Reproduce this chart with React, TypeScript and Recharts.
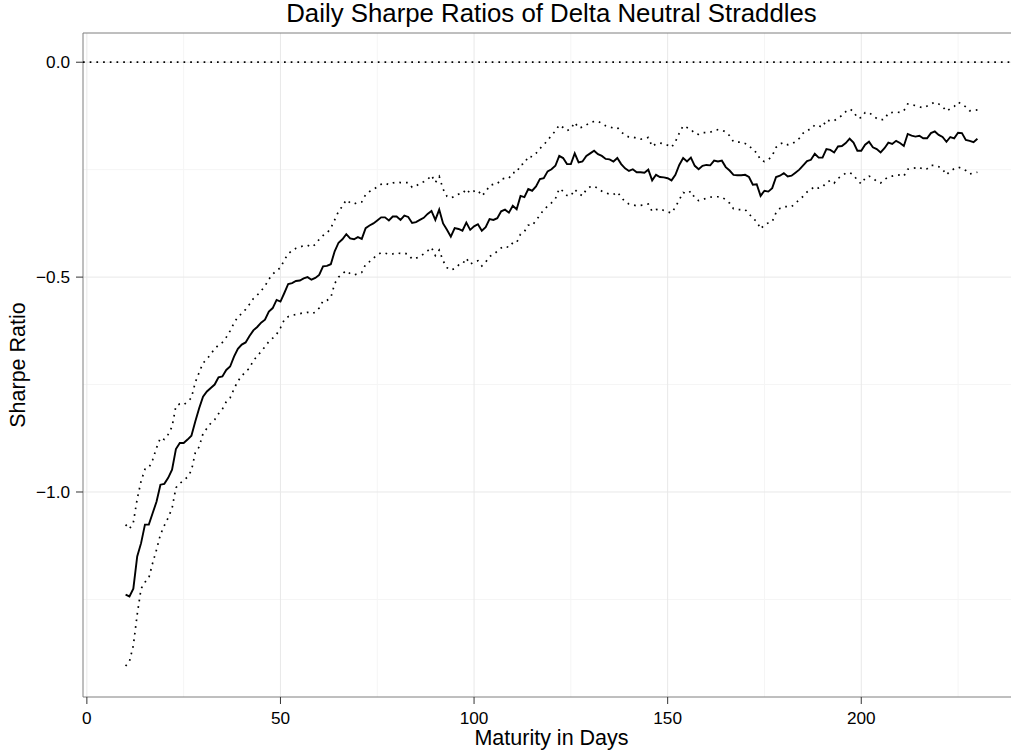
import { LineChart, Line, XAxis, YAxis, CartesianGrid, ReferenceLine, ReferenceArea } from "recharts";

// Sharpe ratio by maturity (days 10..230), mid estimate and the two dotted bounds
const mid = [
    -1.239, -1.243, -1.225, -1.150, -1.119, -1.076, -1.076, -1.049, -1.022, -0.983,
    -0.981, -0.967, -0.948, -0.900, -0.886, -0.886, -0.878, -0.869, -0.836, -0.805,
    -0.778, -0.766, -0.758, -0.750, -0.733, -0.731, -0.716, -0.708, -0.685, -0.667,
    -0.657, -0.652, -0.637, -0.624, -0.616, -0.606, -0.599, -0.580, -0.572, -0.553,
    -0.557, -0.537, -0.516, -0.514, -0.509, -0.508, -0.503, -0.500, -0.506, -0.502,
    -0.495, -0.475, -0.474, -0.470, -0.440, -0.420, -0.412, -0.400, -0.410, -0.412,
    -0.407, -0.411, -0.386, -0.380, -0.375, -0.368, -0.361, -0.361, -0.368, -0.359,
    -0.359, -0.367, -0.357, -0.360, -0.374, -0.372, -0.367, -0.362, -0.353, -0.346,
    -0.367, -0.343, -0.375, -0.390, -0.406, -0.386, -0.388, -0.392, -0.373, -0.390,
    -0.382, -0.377, -0.392, -0.384, -0.365, -0.367, -0.363, -0.347, -0.343, -0.350,
    -0.334, -0.342, -0.311, -0.314, -0.295, -0.299, -0.289, -0.272, -0.270, -0.254,
    -0.249, -0.241, -0.218, -0.223, -0.237, -0.237, -0.212, -0.233, -0.231, -0.218,
    -0.212, -0.206, -0.214, -0.218, -0.225, -0.226, -0.231, -0.223, -0.237, -0.247,
    -0.253, -0.249, -0.256, -0.256, -0.257, -0.250, -0.275, -0.262, -0.267, -0.268,
    -0.270, -0.275, -0.262, -0.239, -0.223, -0.231, -0.222, -0.241, -0.249, -0.241,
    -0.239, -0.240, -0.229, -0.231, -0.229, -0.244, -0.252, -0.262, -0.263, -0.263,
    -0.262, -0.267, -0.285, -0.284, -0.311, -0.299, -0.301, -0.293, -0.267, -0.264,
    -0.258, -0.266, -0.264, -0.257, -0.250, -0.240, -0.230, -0.227, -0.213, -0.222,
    -0.222, -0.202, -0.204, -0.210, -0.196, -0.195, -0.188, -0.178, -0.187, -0.206,
    -0.206, -0.192, -0.185, -0.198, -0.202, -0.210, -0.200, -0.187, -0.190, -0.183,
    -0.188, -0.195, -0.167, -0.171, -0.173, -0.171, -0.177, -0.177, -0.165, -0.161,
    -0.169, -0.174, -0.185, -0.174, -0.177, -0.164, -0.165, -0.181, -0.183, -0.186,
    -0.178,
];

const upper = [
    -1.076, -1.086, -1.071, -1.016, -0.975, -0.947, -0.944, -0.925, -0.897, -0.874,
    -0.878, -0.866, -0.848, -0.800, -0.795, -0.797, -0.790, -0.781, -0.745, -0.722,
    -0.700, -0.691, -0.679, -0.667, -0.658, -0.652, -0.640, -0.625, -0.607, -0.592,
    -0.585, -0.575, -0.563, -0.550, -0.542, -0.532, -0.521, -0.505, -0.493, -0.485,
    -0.478, -0.460, -0.446, -0.438, -0.433, -0.430, -0.427, -0.426, -0.430, -0.424,
    -0.412, -0.403, -0.398, -0.386, -0.367, -0.347, -0.335, -0.320, -0.327, -0.330,
    -0.326, -0.325, -0.308, -0.301, -0.296, -0.290, -0.284, -0.281, -0.285, -0.281,
    -0.279, -0.280, -0.280, -0.280, -0.291, -0.288, -0.282, -0.278, -0.273, -0.263,
    -0.280, -0.266, -0.295, -0.312, -0.316, -0.312, -0.307, -0.306, -0.295, -0.305,
    -0.300, -0.298, -0.311, -0.302, -0.287, -0.284, -0.283, -0.272, -0.270, -0.270,
    -0.257, -0.257, -0.239, -0.236, -0.219, -0.220, -0.212, -0.201, -0.192, -0.182,
    -0.170, -0.160, -0.146, -0.152, -0.159, -0.155, -0.140, -0.153, -0.151, -0.146,
    -0.140, -0.138, -0.137, -0.143, -0.148, -0.151, -0.153, -0.152, -0.162, -0.170,
    -0.174, -0.174, -0.177, -0.179, -0.178, -0.175, -0.196, -0.190, -0.188, -0.190,
    -0.193, -0.198, -0.185, -0.165, -0.148, -0.152, -0.156, -0.166, -0.168, -0.164,
    -0.164, -0.163, -0.159, -0.157, -0.158, -0.162, -0.171, -0.185, -0.186, -0.186,
    -0.189, -0.193, -0.205, -0.210, -0.228, -0.231, -0.227, -0.218, -0.198, -0.190,
    -0.187, -0.192, -0.190, -0.185, -0.177, -0.165, -0.158, -0.156, -0.146, -0.148,
    -0.151, -0.134, -0.137, -0.136, -0.130, -0.124, -0.115, -0.109, -0.114, -0.130,
    -0.129, -0.117, -0.117, -0.124, -0.131, -0.134, -0.133, -0.118, -0.117, -0.116,
    -0.117, -0.113, -0.097, -0.099, -0.101, -0.104, -0.106, -0.102, -0.097, -0.093,
    -0.097, -0.103, -0.114, -0.108, -0.103, -0.093, -0.097, -0.104, -0.113, -0.112,
    -0.111,
];

const lower = [
    -1.405, -1.394, -1.357, -1.285, -1.225, -1.210, -1.200, -1.165, -1.134, -1.099,
    -1.078, -1.060, -1.038, -0.990, -0.980, -0.973, -0.965, -0.950, -0.909, -0.895,
    -0.864, -0.852, -0.840, -0.832, -0.818, -0.807, -0.790, -0.781, -0.760, -0.742,
    -0.730, -0.720, -0.712, -0.694, -0.684, -0.673, -0.662, -0.650, -0.642, -0.633,
    -0.618, -0.599, -0.592, -0.589, -0.587, -0.585, -0.583, -0.582, -0.585, -0.582,
    -0.572, -0.555, -0.554, -0.548, -0.515, -0.500, -0.492, -0.485, -0.492, -0.495,
    -0.492, -0.489, -0.470, -0.464, -0.456, -0.448, -0.443, -0.444, -0.447, -0.446,
    -0.444, -0.445, -0.444, -0.447, -0.458, -0.456, -0.452, -0.446, -0.439, -0.431,
    -0.450, -0.437, -0.462, -0.478, -0.484, -0.480, -0.472, -0.470, -0.456, -0.470,
    -0.465, -0.462, -0.474, -0.465, -0.452, -0.447, -0.440, -0.432, -0.428, -0.431,
    -0.420, -0.420, -0.400, -0.394, -0.379, -0.380, -0.368, -0.356, -0.343, -0.335,
    -0.327, -0.318, -0.294, -0.300, -0.310, -0.311, -0.296, -0.305, -0.311, -0.296,
    -0.290, -0.288, -0.294, -0.300, -0.304, -0.307, -0.308, -0.302, -0.314, -0.325,
    -0.330, -0.332, -0.334, -0.333, -0.332, -0.330, -0.347, -0.343, -0.341, -0.345,
    -0.348, -0.351, -0.337, -0.320, -0.303, -0.306, -0.300, -0.316, -0.322, -0.320,
    -0.316, -0.314, -0.313, -0.313, -0.314, -0.320, -0.328, -0.341, -0.343, -0.343,
    -0.343, -0.352, -0.364, -0.370, -0.388, -0.378, -0.374, -0.371, -0.350, -0.340,
    -0.336, -0.336, -0.336, -0.328, -0.320, -0.312, -0.302, -0.296, -0.289, -0.293,
    -0.290, -0.280, -0.275, -0.281, -0.270, -0.265, -0.258, -0.257, -0.262, -0.275,
    -0.283, -0.270, -0.265, -0.270, -0.277, -0.281, -0.273, -0.267, -0.265, -0.263,
    -0.262, -0.265, -0.249, -0.247, -0.246, -0.244, -0.250, -0.248, -0.240, -0.240,
    -0.243, -0.249, -0.262, -0.253, -0.248, -0.244, -0.247, -0.252, -0.260, -0.258,
    -0.256,
];

const firstDay = 10;
const days = mid.map((_, i) => firstDay + i);

const xTicks = [0, 50, 100, 150, 200];
const xMinor = [25, 75, 125, 175, 225];
const yTicks = [-1, -0.5, 0];
const yMinor = [-1.25, -0.75, -0.25];

const X_DOMAIN: [number, number] = [-1, 241];
const Y_DOMAIN: [number, number] = [-1.477, 0.068];

const data = days.map((day, i) => ({ day, mid: mid[i], upper: upper[i], lower: lower[i] }));

const FONT = "'Liberation Sans', Arial, Helvetica, sans-serif";
const DOTTED = "1.7 5";

const fmtY = (v: number): string => {
    const s = Math.abs(v).toFixed(1);
    return v < 0 ? "\u2212" + s : s;
};

export default function App() {
    const tickStyle = { fill: "#000", fontSize: 17.2, fontFamily: FONT };
    return (
        <div style={{ position: "fixed", left: 0, top: 0, width: 1011, height: 752, overflow: "hidden", background: "#fff" }}>
            <LineChart width={1030} height={752} data={data} margin={{ top: 33, right: 10, bottom: 0, left: 0 }}>
                <CartesianGrid stroke="#f5f5f5" strokeWidth={1} horizontalValues={yMinor} verticalValues={xMinor} />
                <CartesianGrid stroke="#e8e8e8" strokeWidth={1} horizontalValues={yTicks} verticalValues={xTicks} />
                <XAxis
                    dataKey="day"
                    type="number"
                    domain={X_DOMAIN}
                    ticks={xTicks}
                    allowDataOverflow
                    height={55}
                    tickSize={7}
                    tickMargin={8}
                    axisLine={false}
                    tickLine={{ stroke: "#333", strokeWidth: 1 }}
                    tick={tickStyle}
                />
                <YAxis
                    type="number"
                    domain={Y_DOMAIN}
                    ticks={yTicks}
                    allowDataOverflow
                    width={83}
                    tickSize={7}
                    tickMargin={6}
                    axisLine={false}
                    tickLine={{ stroke: "#333", strokeWidth: 1 }}
                    tick={tickStyle}
                    tickFormatter={fmtY}
                />
                <ReferenceLine y={0} stroke="#000" strokeWidth={1.7} strokeDasharray={DOTTED} />
                <Line type="linear" dataKey="upper" stroke="#000" strokeWidth={1.7} strokeDasharray={DOTTED} dot={false} isAnimationActive={false} />
                <Line type="linear" dataKey="lower" stroke="#000" strokeWidth={1.7} strokeDasharray={DOTTED} dot={false} isAnimationActive={false} />
                <Line type="linear" dataKey="mid" stroke="#000" strokeWidth={1.9} dot={false} isAnimationActive={false} />
                <ReferenceArea x1={X_DOMAIN[0]} x2={X_DOMAIN[1]} y1={Y_DOMAIN[0]} y2={Y_DOMAIN[1]} fill="none" fillOpacity={0} stroke="#7f7f7f" strokeWidth={1} />
            </LineChart>
            <svg width={1011} height={752} style={{ position: "absolute", left: 0, top: 0, pointerEvents: "none" }}>
                <text x={551.5} y={22} textAnchor="middle" fontFamily={FONT} fontSize={25.8} fill="#000">
                    Daily Sharpe Ratios of Delta Neutral Straddles
                </text>
                <text x={551.5} y={745} textAnchor="middle" fontFamily={FONT} fontSize={21.5} fill="#000">
                    Maturity in Days
                </text>
                <text x={25} y={365} textAnchor="middle" fontFamily={FONT} fontSize={21.5} fill="#000" transform="rotate(-90 25 365)">
                    Sharpe Ratio
                </text>
            </svg>
        </div>
    );
}
